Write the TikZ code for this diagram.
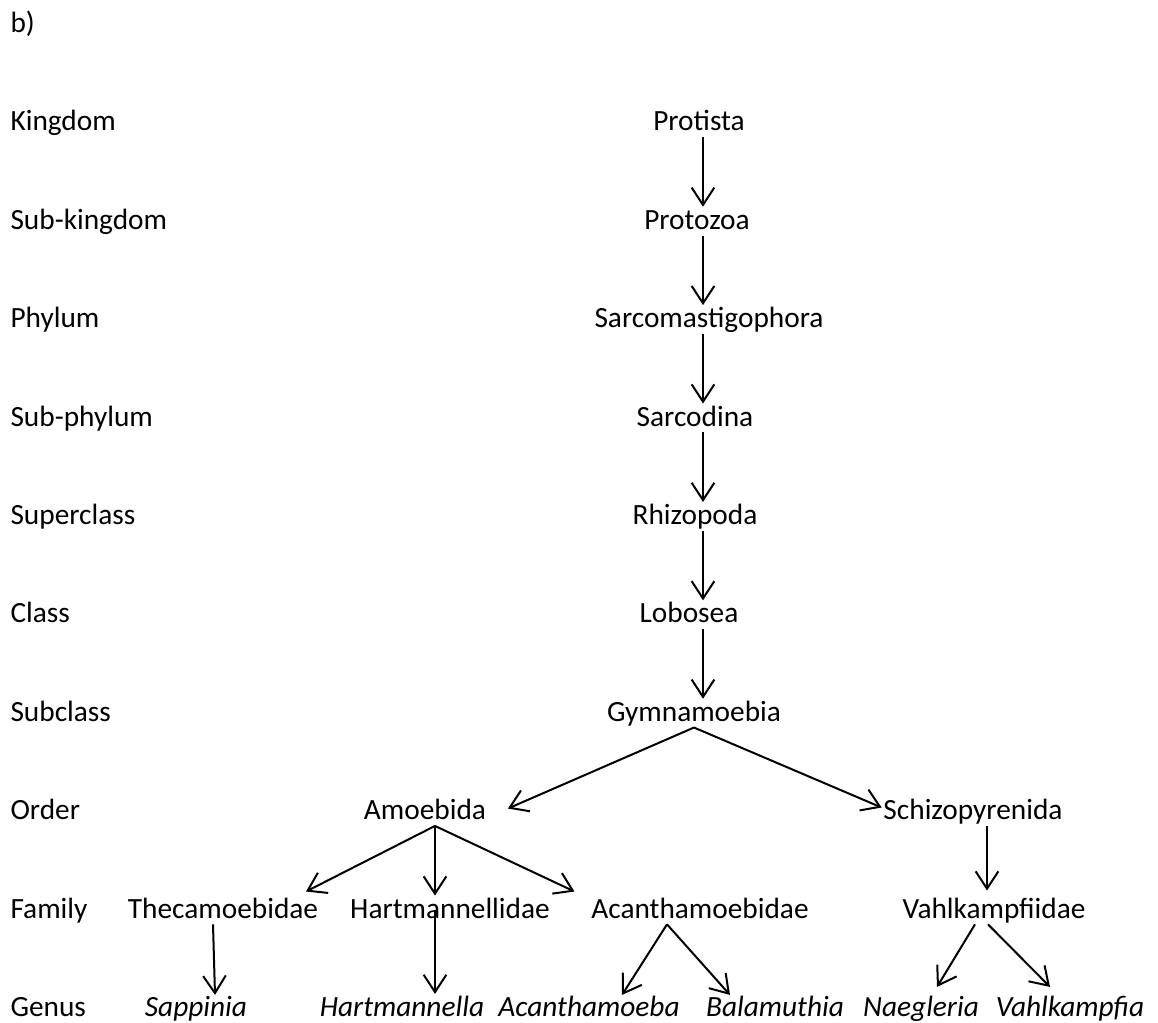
\documentclass[tikz,border=0pt]{standalone}
\usepackage{fontspec}
\setmainfont{Carlito}
\usetikzlibrary{arrows.meta,calc}
\newcommand\taxfont{\fontsize{11}{13}\selectfont}
\tikzset{
  rank/.style={anchor=base west,inner sep=0pt,font=\taxfont},
  taxon/.style={anchor=base,inner sep=0.5pt,text height=7.8pt,text depth=1.6pt,font=\taxfont},
  genus/.style={taxon,font=\taxfont\itshape},
  arr/.style={-{Straight Barb[length=6.5pt,width=8.5pt]},line width=0.75pt},
}
\begin{document}
\begin{tikzpicture}[x=0.375pt,y=-0.375pt]
  \useasboundingbox (0,0) rectangle (1158,1023);
  \node (part) at (10,33) [rank] {b)};

  % ranks
  \node (kingdom) at (10,131) [rank] {Kingdom};
  \node (subkingdom) at (10,229.4) [rank] {Sub-kingdom};
  \node (phylum) at (10,327.8) [rank] {Phylum};
  \node (subphylum) at (10,426.2) [rank] {Sub-phylum};
  \node (superclass) at (10,524.6) [rank] {Superclass};
  \node (class) at (10,623) [rank] {Class};
  \node (subclass) at (10,721.4) [rank] {Subclass};
  \node (order) at (10,819.8) [rank] {Order};
  \node (family) at (10,918.2) [rank] {Family};
  \node (genusrow) at (10,1016.6) [rank] {Genus};

  % taxa
  \node (protista) at (699,131) [taxon] {Protista};
  \node (protozoa) at (697,229.4) [taxon] {Protozoa};
  \node (sarco) at (709,327.8) [taxon] {Sarcomastigophora};
  \node (sarcodina) at (695,426.2) [taxon] {Sarcodina};
  \node (rhizopoda) at (695,524.6) [taxon] {Rhizopoda};
  \node (lobosea) at (689,623) [taxon] {Lobosea};
  \node (gymn) at (694,721.4) [taxon] {Gymnamoebia};
  \node (amoeb) at (425,819.8) [taxon] {Amoebida};
  \node (schizo) at (973,819.8) [taxon] {Schizopyrenida};
  \node (theca) at (223,918.2) [taxon] {Thecamoebidae};
  \node (hartm) at (450,918.2) [taxon] {Hartmannellidae};
  \node (acanth) at (700,918.2) [taxon] {Acanthamoebidae};
  \node (vahlf) at (994,918.2) [taxon] {Vahlkampfiidae};
  \node (sapp) at (196,1016.6) [genus] {Sappinia};
  \node (hartmella) at (402,1016.6) [genus] {Hartmannella};
  \node (acanthoeba) at (589,1016.6) [genus] {Acanthamoeba};
  \node (balam) at (775,1016.6) [genus] {Balamuthia};
  \node (naeg) at (921,1016.6) [genus] {Naegleria};
  \node (vahlk) at (1070,1016.6) [genus] {Vahlkampfia};

  % arrows
  \coordinate (stem) at (703,0);
  \draw[arr] (protista.south -| stem) -- (protozoa.north -| stem);
  \draw[arr] (protozoa.south -| stem) -- (sarco.north -| stem);
  \draw[arr] (sarco.south -| stem) -- (sarcodina.north -| stem);
  \draw[arr] (sarcodina.south -| stem) -- (rhizopoda.north -| stem);
  \draw[arr] (rhizopoda.south -| stem) -- (lobosea.north -| stem);
  \draw[arr] (lobosea.south -| stem) -- (gymn.north -| stem);
  \draw[arr] (gymn.south) -- ($(amoeb.east)+(20,-3)$);
  \draw[arr] (gymn.south) -- ($(schizo.west)+(0,-4)$);
  \coordinate (fork) at ($(amoeb.south)+(10,0)$);
  \draw[arr] (fork) -- ($(theca.north east)+(-14,-4)$);
  \draw[arr] (fork) -- (fork |- hartm.north);
  \draw[arr] (fork) -- ($(acanth.north west)+(-15,-4)$);
  \draw[arr] ($(theca.south)+(-10,0)$) -- ($(sapp.north)+(19,1)$);
  \draw[arr] (fork |- hartm.center) -- (fork |- hartmella.north);
  \draw[arr] ($(acanth.south)+(-33,0)$) -- ($(acanthoeba.north)+(33,1)$);
  \draw[arr] ($(acanth.south)+(-33,0)$) -- ($(balam.north)+(-45,1)$);
  \draw[arr] ($(schizo.south)+(14,0)$) -- ($(vahlf.north)+(-7,-5)$);
  \draw[arr] ($(vahlf.south)+(-19,0)$) -- ($(naeg.north)+(16,-7)$);
  \draw[arr] ($(vahlf.south)+(-6,0)$) -- ($(vahlk.north)+(-20,-7)$);
\end{tikzpicture}
\end{document}
